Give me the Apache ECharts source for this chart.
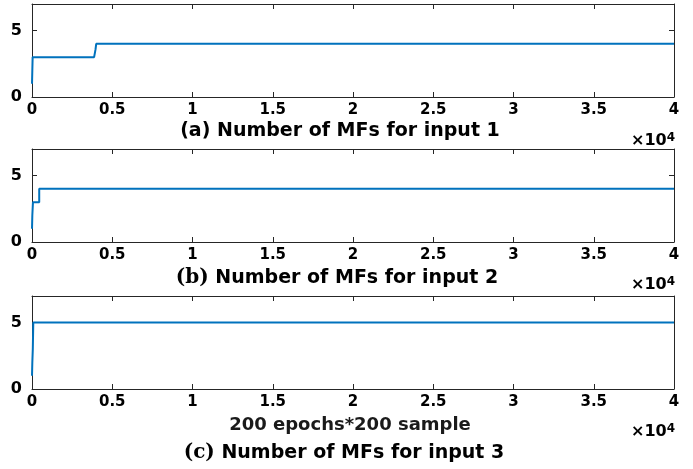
<!DOCTYPE html>
<html>
<head>
<meta charset="utf-8">
<script src="https://cdn.jsdelivr.net/npm/echarts@6/dist/echarts.min.js"></script>
<style>
  html, body { margin: 0; padding: 0; background: #ffffff; }
  #chart { width: 693px; height: 469px; }
</style>
</head>
<body>
<div id="chart"></div>
<script>
// Number of membership functions grown per input over 200 epochs * 200 samples
const samplesIn1 = [1, 20, 20, 40, 40, 3870, 3930, 3960, 4000, 40000];
const mfsIn1     = [1, 1, 2, 2, 3, 3, 3.4, 3.6, 4, 4];

const samplesIn2 = [1, 20, 20, 60, 60, 450, 450, 40000];
const mfsIn2     = [1, 1, 2, 2, 3, 3, 4, 4];

const samplesIn3 = [1, 20, 20, 50, 50, 80, 80, 40000];
const mfsIn3     = [1, 1, 2, 2, 3, 3, 5, 5];

const xTicks = [0, 5000, 10000, 15000, 20000, 25000, 30000, 35000, 40000];
const yTicks = [0, 5];

const panelTitles = [
  { tag: '(a)', text: ' Number of MFs for input 1', serif: false },
  { tag: '(b)', text: ' Number of MFs for input 2', serif: true },
  { tag: '(c)', text: ' Number of MFs for input 3', serif: true }
];
const xAxisCaption = '200 epochs*200 sample';

const FONT = '"DejaVu Sans", "Liberation Sans", Arial, sans-serif';
const SERIF = '"DejaVu Serif", "Liberation Serif", serif';
const AXIS_COLOR = '#262626';
const LINE_COLOR = '#0072BD';

const grids = [
  { left: 32, right: 19, top: 4, height: 93 },
  { left: 32, right: 19, top: 149, height: 93 },
  { left: 32, right: 19, top: 296, height: 93 }
];

function pairs(xs, ys) {
  return xs.map((x, i) => [x, ys[i]]);
}

const xAxes = [];
const yAxes = [];
const series = [];
const seriesData = [
  pairs(samplesIn1, mfsIn1),
  pairs(samplesIn2, mfsIn2),
  pairs(samplesIn3, mfsIn3)
];

grids.forEach((g, i) => {
  const axisLine = { show: true, onZero: false, lineStyle: { color: AXIS_COLOR, width: 1 } };
  const tick = (vals) => ({ show: true, inside: true, length: 5, customValues: vals, lineStyle: { color: AXIS_COLOR } });
  // bottom axis with labels
  xAxes.push({
    type: 'value', gridIndex: i, position: 'bottom',
    min: 0, max: 40000, interval: 5000,
    axisLine: axisLine, axisTick: tick(xTicks),
    axisLabel: {
      customValues: xTicks,
      formatter: v => String(v / 10000),
      color: '#000', fontFamily: FONT, fontWeight: 'bold', fontSize: 15, margin: 6
    },
    splitLine: { show: false }
  });
  // top mirror axis (ticks only)
  xAxes.push({
    type: 'value', gridIndex: i, position: 'top',
    min: 0, max: 40000, interval: 5000,
    axisLine: axisLine, axisTick: tick(xTicks),
    axisLabel: { show: false },
    splitLine: { show: false }
  });
  yAxes.push({
    type: 'value', gridIndex: i, position: 'left',
    min: 0, max: 7,
    axisLine: axisLine, axisTick: tick(yTicks),
    axisLabel: {
      customValues: yTicks,
      color: '#000', fontFamily: FONT, fontWeight: 'bold', fontSize: 16, margin: 10
    },
    splitLine: { show: false }
  });
  yAxes.push({
    type: 'value', gridIndex: i, position: 'right',
    min: 0, max: 7,
    axisLine: axisLine, axisTick: tick(yTicks),
    axisLabel: { show: false },
    splitLine: { show: false }
  });
  series.push({
    type: 'line',
    xAxisIndex: i * 2,
    yAxisIndex: i * 2,
    data: seriesData[i],
    showSymbol: false,
    symbol: 'none',
    lineStyle: { color: LINE_COLOR, width: 2 },
    animation: false
  });
});

function titleText(t) {
  return {
    type: 'text', x: 0, y: 0,
    style: {
      text: '{tag|' + t.tag + '}{body|' + t.text + '}',
      rich: {
        tag: { fontFamily: t.serif ? SERIF : FONT, fontWeight: 'bold', fontSize: t.serif ? 20 : 19, fill: '#000' },
        body: { fontFamily: FONT, fontWeight: 'bold', fontSize: 19, fill: '#000' }
      },
      textAlign: 'center', textVerticalAlign: 'middle'
    }
  };
}

function exponentText() {
  return {
    type: 'text', x: 0, y: 0,
    style: {
      text: '{base|×10}{sup|4}',
      rich: {
        base: { fontFamily: FONT, fontWeight: 'bold', fontSize: 16, fill: '#000' },
        sup: { fontFamily: FONT, fontWeight: 'bold', fontSize: 12, fill: '#000', verticalAlign: 'bottom', padding: [0, 0, 7, 0] }
      },
      textAlign: 'right', textVerticalAlign: 'middle'
    }
  };
}

const graphics = [
  { type: 'group', x: 340, y: 131, children: [titleText(panelTitles[0])] },
  { type: 'group', x: 337, y: 278, children: [titleText(panelTitles[1])] },
  { type: 'group', x: 344, y: 453, children: [titleText(panelTitles[2])] },
  { type: 'group', x: 350, y: 425, children: [{
      type: 'text', x: 0, y: 0,
      style: { text: xAxisCaption, fontFamily: FONT, fontWeight: 'bold', fontSize: 18, fill: '#1a1a1a',
               textAlign: 'center', textVerticalAlign: 'middle' }
  }] },
  { type: 'group', x: 675, y: 141, children: [exponentText()] },
  { type: 'group', x: 675, y: 285, children: [exponentText()] },
  { type: 'group', x: 675, y: 432, children: [exponentText()] }
];

const chart = echarts.init(document.getElementById('chart'), null, { renderer: 'canvas' });
chart.setOption({
  backgroundColor: '#ffffff',
  animation: false,
  grid: grids,
  xAxis: xAxes,
  yAxis: yAxes,
  series: series,
  graphic: graphics
});
</script>
</body>
</html>
